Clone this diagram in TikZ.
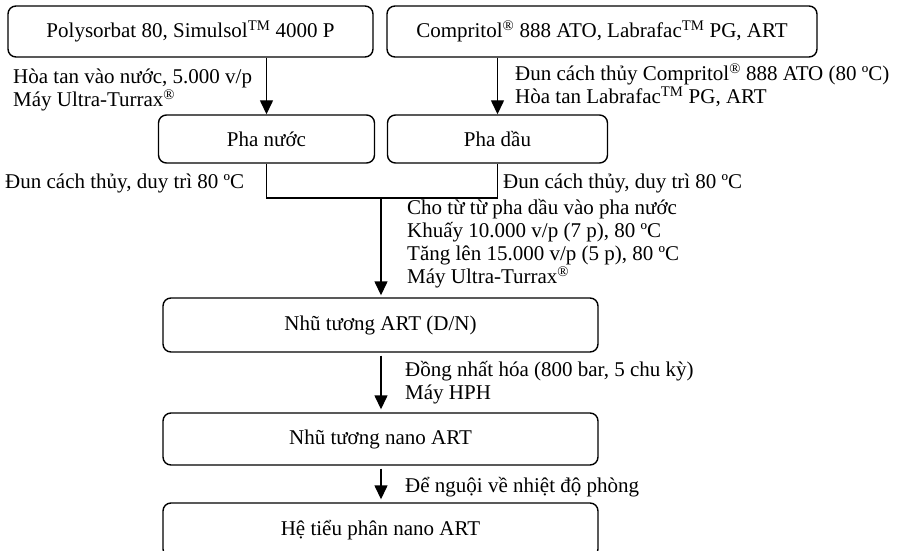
\documentclass[tikz,border=0pt]{standalone}
\usepackage{fontspec}
\setmainfont{Liberation Serif}
\usetikzlibrary{arrows.meta}
\begin{document}
\begin{tikzpicture}[x=1pt,y=-1pt,
  box/.style={draw, line width=1.4pt, rounded corners=8pt, inner sep=0pt},
  lbl/.style={inner sep=0pt, align=left, anchor=west},
  arr/.style={line width=1.4pt, -{Triangle[width=13pt,length=14pt]}},
  conn/.style={line width=1.4pt},
  every node/.style={font=\fontsize{21}{23}\selectfont}]
\clip (0,0) rectangle (906,551);
\node[box, minimum width=365pt, minimum height=51pt] (b1) at (190.5,31.5) {Polysorbat 80, Simulsol\textsuperscript{TM} 4000 P};
\node[box, minimum width=430pt, minimum height=51pt] (b2) at (602,31.5) {Compritol\textsuperscript{®} 888 ATO, Labrafac\textsuperscript{TM} PG, ART};
\node[box, minimum width=216pt, minimum height=48pt] (pn) at (266.5,139) {Pha nước};
\node[box, minimum width=220pt, minimum height=48pt] (pd) at (497.5,139) {Pha dầu};
\node[box, minimum width=435pt, minimum height=54pt] (nt) at (380.5,325) {Nhũ tương ART (D/N)};
\node[box, minimum width=435pt, minimum height=52pt] (nn) at (380.5,439) {Nhũ tương nano ART};
\node[box, minimum width=435pt, minimum height=54pt] (he) at (380.5,530) {Hệ tiểu phân nano ART};
\coordinate (m) at (381,198);
\draw[arr] (pn.north |- b1.south) -- (pn.north);
\draw[arr] (pd.north |- b2.south) -- (pd.north);
\draw[conn] (pn.south) |- (m) -| (pd.south);
\draw[arr, shorten >=2pt] (m) -- (nt.north -| m);
\draw[arr, shorten <=3pt, shorten >=3pt] (nt.south -| m) -- (nn.north -| m);
\draw[arr, shorten <=3pt, shorten >=3pt] (nn.south -| m) -- (he.north -| m);
\node[lbl] (l1) at (13,90) {Hòa tan vào nước, 5.000 v/p\\Máy Ultra-Turrax\textsuperscript{®}};
\node[lbl] (l2) at (515,85) {Đun cách thủy Compritol\textsuperscript{®} 888 ATO (80 ºC)\\Hòa tan Labrafac\textsuperscript{TM} PG, ART};
\node[lbl] (l3) at (5,183) {Đun cách thủy, duy trì 80 ºC};
\node[lbl] (l4) at (503,183) {Đun cách thủy, duy trì 80 ºC};
\node[lbl] (l5) at (407,244) {Cho từ từ pha dầu vào pha nước\\Khuấy 10.000 v/p (7 p), 80 ºC\\Tăng lên 15.000 v/p (5 p), 80 ºC\\Máy Ultra-Turrax\textsuperscript{®}};
\node[lbl] (l6) at (405,382.5) {Đồng nhất hóa (800 bar, 5 chu kỳ)\\Máy HPH};
\node[lbl] (l7) at (405,487) {Để nguội về nhiệt độ phòng};
\end{tikzpicture}
\end{document}
